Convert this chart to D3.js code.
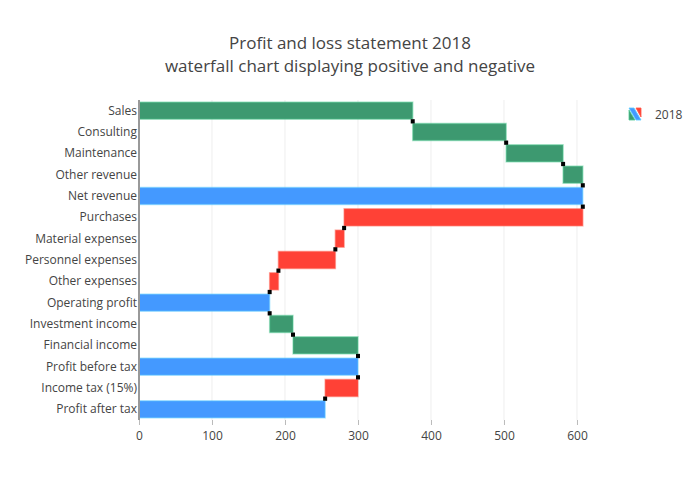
<!DOCTYPE html>
<html>
<head>
<meta charset="utf-8">
<script src="https://cdn.jsdelivr.net/npm/d3@7"></script>
<style>
  html, body { margin: 0; padding: 0; background: #fff; }
  svg { display: block; font-family: "Open Sans", sans-serif; }
</style>
</head>
<body>
<svg id="chart" width="700" height="500"></svg>
<script>
// ---- data ----
const categories = ["Sales", "Consulting", "Maintenance", "Other revenue", "Net revenue",
  "Purchases", "Material expenses", "Personnel expenses", "Other expenses", "Operating profit",
  "Investment income", "Financial income", "Profit before tax", "Income tax (15%)", "Profit after tax"];
const measures = ["relative", "relative", "relative", "relative", "total",
  "relative", "relative", "relative", "relative", "total",
  "relative", "relative", "total", "relative", "total"];
const values = [375, 128, 78, 27, null, -327, -12, -78, -12, null, 32, 89, null, -45, null];
const xTicks = [0, 100, 200, 300, 400, 500, 600];
const titleLines = ["Profit and loss statement 2018", "waterfall chart displaying positive and negative"];
const legendLabel = "2018";

const colors = { increasing: "#3D9970", decreasing: "#FF4136", totals: "#4499FF" };

// ---- compute waterfall ----
let running = 0;
const rows = categories.map((c, i) => {
  let start, end, kind;
  if (measures[i] === "total") {
    start = 0; end = running; kind = "totals";
  } else {
    start = running; end = running + values[i]; running = end;
    kind = values[i] >= 0 ? "increasing" : "decreasing";
  }
  return { cat: c, start, end, kind };
});

// ---- layout ----
const svg = d3.select("#chart");
const m = { l: 139, r: 605, t: 100, b: 420 };
const maxV = d3.max(rows, d => Math.max(d.start, d.end));
const x = d3.scaleLinear().domain([0, maxV * 1.05]).range([m.l, m.r]);
const y = d3.scaleBand().domain(categories).range([m.t, m.b]).paddingInner(0.2).paddingOuter(0.1);

// gridlines
svg.append("g").selectAll("line").data(xTicks.filter(t => t !== 0)).join("line")
  .attr("x1", d => x(d)).attr("x2", d => x(d))
  .attr("y1", m.t).attr("y2", m.b)
  .attr("stroke", "#eee").attr("stroke-width", 1);

// bars
svg.append("g").selectAll("rect").data(rows).join("rect")
  .attr("x", d => x(Math.min(d.start, d.end)))
  .attr("width", d => Math.abs(x(d.end) - x(d.start)))
  .attr("y", d => y(d.cat))
  .attr("height", y.bandwidth())
  .attr("fill", d => colors[d.kind])
  .attr("stroke", d => d3.color(colors[d.kind]).brighter(0.8))
  .attr("stroke-opacity", 0.45)
  .attr("stroke-width", 1.5);

// connectors
const conn = [];
for (let i = 0; i < rows.length - 1; i++) {
  conn.push({ xv: rows[i].end, y1: y(rows[i].cat) + y.bandwidth(), y2: y(rows[i + 1].cat) });
}
svg.append("g").selectAll("line").data(conn).join("line")
  .attr("x1", d => x(d.xv)).attr("x2", d => x(d.xv))
  .attr("y1", d => d.y1).attr("y2", d => d.y2)
  .attr("stroke", "#000").attr("stroke-width", 4);

// zero line
svg.append("line")
  .attr("x1", x(0)).attr("x2", x(0)).attr("y1", m.t).attr("y2", m.b)
  .attr("stroke", "#999").attr("stroke-width", 2);

// x axis
const xAxis = svg.append("g").attr("transform", `translate(0,${m.b})`)
  .call(d3.axisBottom(x).tickValues(xTicks).tickSize(5).tickPadding(6).tickFormat(d3.format("d")));
xAxis.select(".domain").remove();
xAxis.selectAll(".tick line").attr("stroke", "#bbb");
xAxis.selectAll(".tick text").attr("fill", "#444").attr("font-size", 12)
  .attr("font-family", "'Open Sans', sans-serif");

// y labels
const yAxis = svg.append("g").attr("transform", `translate(${m.l},0)`)
  .call(d3.axisLeft(y).tickSize(0).tickPadding(2));
yAxis.select(".domain").remove();
yAxis.selectAll(".tick text").attr("fill", "#444").attr("font-size", 12)
  .attr("font-family", "'Open Sans', sans-serif");

// title
svg.append("text").attr("x", 350).attr("y", 49).attr("text-anchor", "middle")
  .attr("font-size", 17).attr("fill", "#444").text(titleLines[0]);
svg.append("text").attr("x", 350).attr("y", 72).attr("text-anchor", "middle")
  .attr("font-size", 17).attr("fill", "#444").text(titleLines[1]);

// legend
const lg = svg.append("g").attr("transform", "translate(635,114)");
lg.append("path").attr("d", "M-6,-4L-6,6L0,6Z").attr("fill", colors.increasing)
  .attr("stroke", d3.color(colors.increasing).brighter(0.8)).attr("stroke-width", 0.8);
lg.append("path").attr("d", "M-6,-6L-1,-6L6,6L1,6Z").attr("fill", colors.totals)
  .attr("stroke", d3.color(colors.totals).brighter(0.8)).attr("stroke-width", 0.8);
lg.append("path").attr("d", "M1,-6L6,-6L6,3Z").attr("fill", colors.decreasing)
  .attr("stroke", d3.color(colors.decreasing).brighter(0.8)).attr("stroke-width", 0.8);
svg.append("text").attr("x", 655).attr("y", 118.5).attr("font-size", 12).attr("fill", "#444")
  .text(legendLabel);
</script>
</body>
</html>
